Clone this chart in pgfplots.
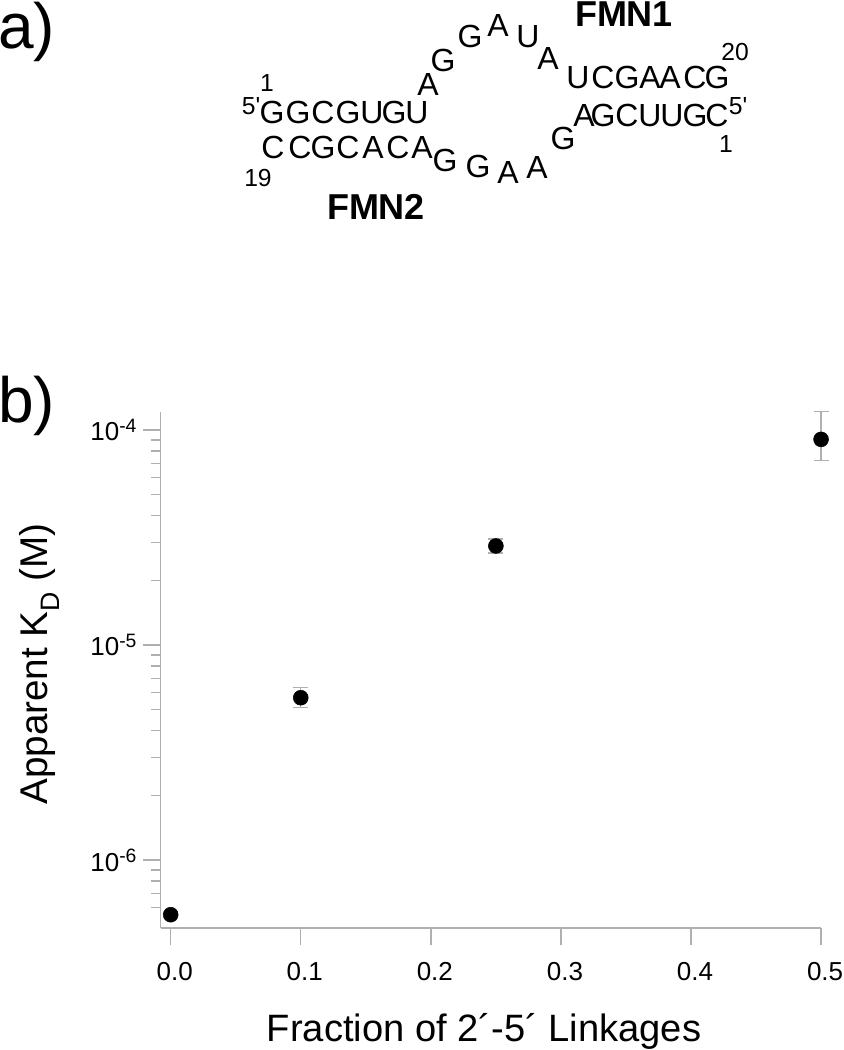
\documentclass[border=0pt]{standalone}
\usepackage{fontspec}
\setmainfont{Liberation Sans}
\usepackage{pgfplots}
\pgfplotsset{compat=1.18}
\definecolor{axgray}{HTML}{B0B0B0}
\newcommand{\sz}[1]{\fontsize{#1}{#1}\selectfont}
% letter at reference pixel position (x, baseline y)
\newcommand{\lt}[3]{\node[anchor=base,inner sep=0pt,font=\sz{24}] at (#1,{1050-#2}) {#3};}
\newcommand{\nb}[3]{\node[anchor=base,inner sep=0pt,font=\sz{18.5}] at (#1,{1050-#2}) {#3};}
\newcommand{\pw}[1]{10\raisebox{6.5pt}{\sz{14.5}-#1}}
\begin{document}
\begin{tikzpicture}
\path[use as bounding box] (0,0) rectangle (632.25pt,787.5pt);
\begin{axis}[
    at={(120.4pt,91.5pt)}, anchor=south west,
    scale only axis, width=495.4pt, height=387pt,
    ymode=log,
    xmin=-0.0078, xmax=0.5,
    ymin=4.83e-7, ymax=1.213e-4,
    axis lines*=left,
    axis line style={axgray,line width=1.1pt,-},
    every tick/.style={axgray,line width=1pt},
    tick align=outside,
    major tick length=13pt,
    minor tick length=7.5pt,
    xtick={0,0.1,0.2,0.3,0.4,0.5},
    xticklabels={0.0,0.1,0.2,0.3,0.4,0.5},
    ytick={1e-6,1e-5,1e-4},
    yticklabels={\pw{6},\pw{5},\pw{4}},
    minor ytick={6e-7,7e-7,8e-7,9e-7,2e-6,3e-6,4e-6,5e-6,6e-6,7e-6,8e-6,9e-6,2e-5,3e-5,4e-5,5e-5,6e-5,7e-5,8e-5,9e-5},
    tick label style={font=\sz{19.5}},
    xticklabel style={yshift=-9.5pt,xshift=3pt},
    yticklabel style={xshift=-1.5pt},
    xlabel={Fraction of 2´-5´ Linkages},
    ylabel={Apparent K\raisebox{-9pt}{\sz{20}D} (M)},
    every axis x label/.style={at={(axis description cs:0.4898,-0.219)},anchor=base,font=\sz{28.6}},
    every axis y label/.style={at={(axis description cs:-0.1718,0.5116)},rotate=90,anchor=base,font=\sz{29}},
    clip=false,
]
\addplot[only marks, mark=*, mark size=5.6pt, black,
    error bars/.cd, y dir=both, y explicit,
    error bar style={axgray,line width=1pt},
    error mark options={rotate=90,axgray,mark size=5.6pt,line width=1pt}]
    coordinates {
    (0.0,5.57e-7) += (0,0) -= (0,0)
    (0.1,5.69e-6) += (0,0.67e-6) -= (0,0.56e-6)
    (0.25,2.89e-5) += (0,0.22e-5) -= (0,0.21e-5)
    (0.5,9.05e-5) += (0,3.11e-5) -= (0,1.85e-5)
    };
\end{axis}
\begin{scope}[x=0.75pt,y=0.75pt]
\node[anchor=base west,inner sep=0pt,font=\sz{48}] at (-2,{1050-49}) {a)};
\node[anchor=base west,inner sep=0pt,font=\sz{48}] at (-2,{1050-423}) {b)};
\node[anchor=base,inner sep=0pt,font=\bfseries\sz{27}] at (624,{1050-27}) {FMN1};
\node[anchor=base,inner sep=0pt,font=\bfseries\sz{27}] at (376,{1050-220}) {FMN2};
\lt{272}{124}{G}\lt{298}{124}{G}\lt{323}{124}{C}\lt{348}{124}{G}\lt{372}{124}{U}\lt{394}{124}{G}\lt{417}{124}{U}
\lt{273}{159}{C}\lt{300}{159}{C}\lt{323}{159}{G}\lt{348}{159}{C}\lt{373}{159}{A}\lt{398}{159}{C}\lt{422}{159}{A}
\lt{428}{96}{A}\lt{443}{72}{G}\lt{470}{48}{G}\lt{498}{37}{A}\lt{528}{48}{U}\lt{548}{70}{A}
\lt{578}{89}{U}\lt{603}{89}{C}\lt{627}{89}{G}\lt{650}{89}{A}\lt{670}{89}{A}\lt{695}{89}{C}\lt{717}{89}{G}
\lt{584}{127}{A}\lt{603}{127}{G}\lt{627}{127}{C}\lt{650}{127}{U}\lt{672}{127}{U}\lt{695}{127}{G}\lt{717}{127}{C}
\lt{563}{150}{G}\lt{445}{172}{G}\lt{478}{178}{G}\lt{508}{184}{A}\lt{537}{179}{A}
\nb{267}{92}{1}\nb{251}{115}{5\textquotesingle}\nb{735}{61}{20}\nb{738}{115}{5\textquotesingle}\nb{726}{153}{1}\nb{258}{187}{19}
\end{scope}
\end{tikzpicture}
\end{document}
